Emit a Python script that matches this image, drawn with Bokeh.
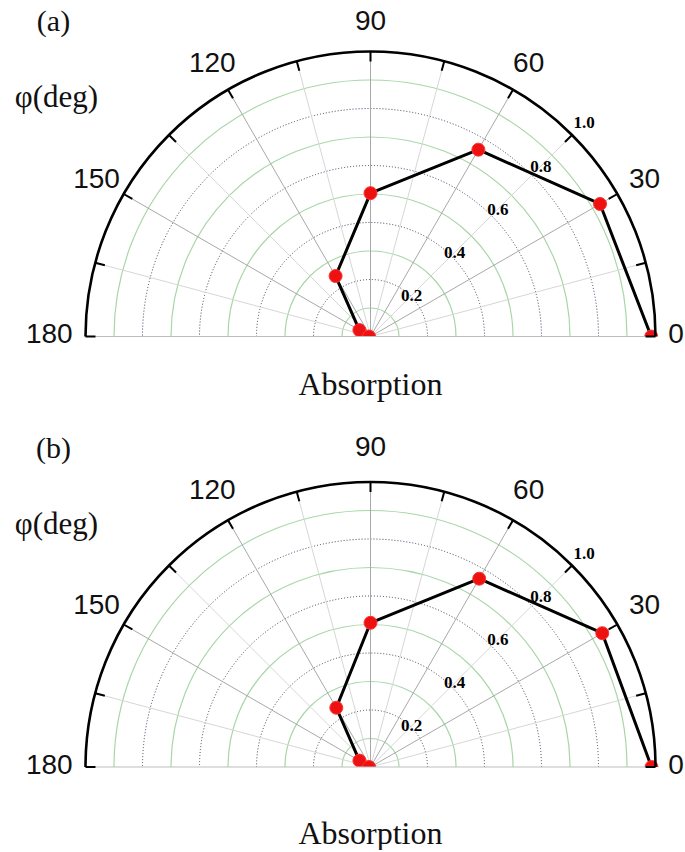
import numpy as np
from bokeh.plotting import figure
from bokeh.layouts import column
from bokeh.models import ColumnDataSource
from bokeh.core.properties import value
from bokeh.embed import file_html
from bokeh.resources import INLINE

# ---- data ----
angles_deg = [0, 30, 60, 90, 120, 150, 180]
absorption_a = [0.985, 0.930, 0.757, 0.503, 0.245, 0.045, 0.005]
absorption_b = [0.986, 0.939, 0.763, 0.506, 0.240, 0.045, 0.005]
panel_labels = ["(a)", "(b)"]
angle_tick_labels = ["0", "30", "60", "90", "120", "150", "180"]
angle_tick_values = [0, 30, 60, 90, 120, 150, 180]
radial_dotted = [0.2, 0.4, 0.6, 0.8]
radial_green = [0.1, 0.3, 0.5, 0.7, 0.9]
radial_labels = ["0.2", "0.4", "0.6", "0.8", "1.0"]
radial_label_values = [0.2, 0.4, 0.6, 0.8, 1.0]

SCALE = 285.0  # pixels per unit radius
W = 685
CX = 370.0      # center x in plot pixels
SANS = value("Liberation Sans")
SERIF = value("Liberation Serif")


def px(d):
    return d / SCALE


def make_panel(r_vals, label, height, base_from_top, absorb_dy, top_dy):
    x0 = -CX / SCALE
    x1 = (W - CX) / SCALE
    y1 = base_from_top / SCALE
    y0 = -(height - base_from_top) / SCALE
    p = figure(width=W, height=height, x_range=(x0, x1), y_range=(y0, y1),
               output_backend="svg", toolbar_location=None,
               x_axis_location=None, y_axis_location=None, min_border=0)
    p.grid.visible = False
    p.outline_line_color = None
    p.background_fill_color = "white"
    p.border_fill_color = "white"

    # green circles
    for r in radial_green:
        p.arc(x=0, y=0, radius=r, start_angle=0, end_angle=np.pi,
              line_color="#a9d6a9", line_width=1.2)
    # dotted circles
    for r in radial_dotted:
        p.arc(x=0, y=0, radius=r, start_angle=0, end_angle=np.pi,
              line_color="#3e3e5e", line_width=1, line_dash="1 2")

    # spokes
    sp = np.arange(15, 180, 15)
    major = [a for a in sp if a % 30 == 0]
    minor = [a for a in sp if a % 30 != 0]
    mi = np.radians(minor)
    p.segment(x0=[0] * len(mi), y0=[0] * len(mi), x1=np.cos(mi), y1=np.sin(mi),
              line_color="#d6d6d6", line_width=1)
    ma = np.radians(major)
    p.segment(x0=[0] * len(ma), y0=[0] * len(ma), x1=np.cos(ma), y1=np.sin(ma),
              line_color="#a8a8a8", line_width=1)

    # data
    th = np.radians(angles_deg)
    r = np.array(r_vals)
    src = ColumnDataSource(dict(x=r * np.cos(th), y=r * np.sin(th)))
    p.line("x", "y", source=src, line_color="black", line_width=3)
    p.scatter("x", "y", source=src, size=13, fill_color="#ee1111",
              line_color="#ff3333", line_width=1)

    # mask below baseline (markers clipped at the axis)
    p.quad(left=-1.05, right=1.05, bottom=-0.06, top=0.0,
           fill_color="white", line_color=None)

    # baseline
    p.segment(x0=[-1], y0=[0], x1=[1], y1=[0], line_color="#bdbdbd", line_width=1.2)

    # outer arc
    p.arc(x=0, y=0, radius=1.0, start_angle=0, end_angle=np.pi,
          line_color="black", line_width=2.6)
    # ticks every 15 deg
    tk = np.radians(np.arange(0, 181, 15))
    p.segment(x0=np.cos(tk), y0=np.sin(tk), x1=0.965 * np.cos(tk), y1=0.965 * np.sin(tk),
              line_color="black", line_width=2)

    # angle labels
    mid_vals = [v for v in angle_tick_values if 0 < v < 180]
    mid_labs = [l for v, l in zip(angle_tick_values, angle_tick_labels) if 0 < v < 180]
    ma = np.radians(mid_vals)
    p.text(x=1.11 * np.cos(ma), y=1.11 * np.sin(ma) + px(top_dy), text=mid_labs,
           text_font=SANS, text_font_size="28px", text_align="center",
           text_baseline="middle", text_color="#111111")
    p.text(x=[1.045], y=[px(3)], text=[angle_tick_labels[0]], text_font=SANS,
           text_font_size="28px", text_align="left", text_baseline="middle",
           text_color="#111111")
    p.text(x=[-1.045], y=[px(3)], text=[angle_tick_labels[-1]], text_font=SANS,
           text_font_size="28px", text_align="right", text_baseline="middle",
           text_color="#111111")

    # radial labels
    rv = np.array(radial_label_values)
    rl = rv * 1.07 - 0.01
    a45 = np.radians(45)
    p.text(x=rl * np.cos(a45), y=rl * np.sin(a45), text=radial_labels,
           text_font=SERIF, text_font_size="17px", text_font_style="bold",
           text_align="center", text_baseline="middle", text_color="black")

    # titles
    p.text(x=[px(-317)], y=[px(316 + top_dy)], text=[label], text_font=SERIF,
           text_font_size="30px", text_align="center", text_baseline="middle",
           text_color="#111111")
    p.text(x=[px(-314)], y=[px(240 + top_dy)], text=["φ(deg)"], text_font=SERIF,
           text_font_size="31px", text_align="center", text_baseline="middle",
           text_color="#111111")
    p.text(x=[0], y=[px(-absorb_dy)], text=["Absorption"], text_font=SERIF,
           text_font_size="32px", text_align="center", text_baseline="middle",
           text_color="#111111")
    return p


H1 = 420
H_TOTAL = 850
p1 = make_panel(absorption_a, panel_labels[0], H1, 336.0, 47, 0)
p2 = make_panel(absorption_b, panel_labels[1], H_TOTAL - H1, 766.5 - H1, 66, 4)

layout = column(p1, p2, spacing=0)
open("out.html", "w").write(file_html(layout, INLINE))
